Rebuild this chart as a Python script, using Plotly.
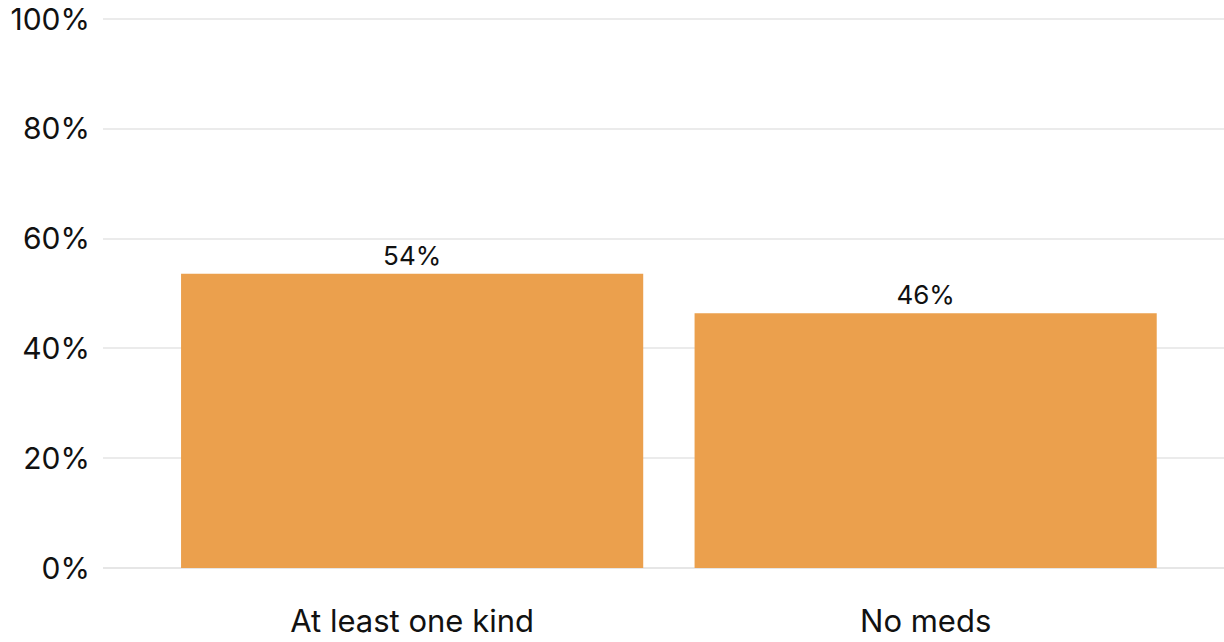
import plotly.graph_objects as go

categories = ["At least one kind", "No meds"]
values = [53.6, 46.4]
labels = ["54%", "46%"]
tick_vals = [0, 20, 40, 60, 80, 100]
tick_text = ["0%", "20%", "40%", "60%", "80%", "100%"]

fig = go.Figure(go.Bar(
    x=categories, y=values, text=labels, textposition="outside",
    marker=dict(color="#EBA04D", line=dict(width=0)),
    textfont=dict(family="Inter", size=26, color="#111111"),
    cliponaxis=False, width=0.9,
))

fig.update_layout(
    width=1224, height=642,
    margin=dict(l=103, r=0, t=18, b=74),
    paper_bgcolor="white", plot_bgcolor="white",
    showlegend=False,
    font=dict(family="Inter", color="#111111"),
    xaxis=dict(range=[-0.602, 1.581], showgrid=False, showline=False, zeroline=False,
               tickfont=dict(size=31), ticks="", ticklabelstandoff=32),
    yaxis=dict(range=[0, 100.2], tickvals=tick_vals, ticktext=tick_text,
               showgrid=True, gridcolor="#ebebeb", gridwidth=2,
               zeroline=True, zerolinecolor="#e6e6e6", zerolinewidth=2,
               showline=False, ticks="", tickfont=dict(size=30), ticklabelstandoff=12,
               ticklabeloverflow="allow"),
)

fig.write_html("out.html", config={"displayModeBar": False},
               post_script="document.body.style.margin='0';document.body.style.overflow='hidden';")
